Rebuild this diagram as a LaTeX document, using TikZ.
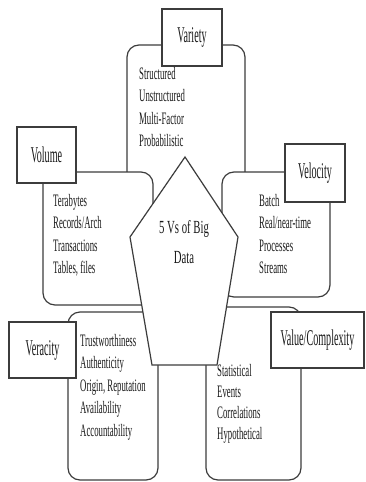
\documentclass[tikz,border=0pt]{standalone}
\usepackage{fontspec}
\setmainfont{Liberation Serif}
\newfontfamily\listfont{Liberation Serif}[FakeStretch=0.50]
\newfontfamily\tagfont{Liberation Serif}[FakeStretch=0.45]
\newfontfamily\corefont{Liberation Serif}[FakeStretch=0.58]
\usetikzlibrary{positioning}
\definecolor{ink}     {HTML}{1A1A1A}
\definecolor{edgegray}{HTML}{3C3C3C}

\tikzset{
  vbox/.style={draw=edgegray,fill=white,line width=1.2pt,rounded corners=12pt,inner sep=0pt},
  vtag/.style={draw=edgegray,fill=white,line width=1.2pt,inner sep=0pt,
               font=\tagfont\fontsize{22.5}{26}\selectfont,text=ink},
  vlist/.style={anchor=north west,inner sep=0pt,align=left,text=ink,
                font=\listfont\fontsize{17.5}{22.5}\selectfont},
}

\begin{document}
\begin{tikzpicture}[x=1pt,y=-1pt]
        \useasboundingbox (0,0) rectangle (365,482);
        % rounded panels, back to front
        \node[vbox,minimum width=118,minimum height=180] (varbox) at (186,135) {};
        \node[vbox,minimum width=110,minimum height=133] (volbox) at (98,238.5) {};
        \node[vbox,minimum width=108,minimum height=125] (velbox) at (276,234.5) {};
        \node[vbox,minimum width=90,minimum height=168]  (verbox) at (113,396) {};
        \node[vbox,minimum width=95,minimum height=173]  (valbox) at (253.5,393.5) {};
        % centre pentagon
        \draw[edgegray,fill=white,line width=1.2pt,line join=miter]
          (185,157) -- (238,237) -- (217,365) -- (152,365) -- (130,237) -- cycle;
        \node[align=center,text=ink,font=\corefont\fontsize{18.5}{30}\selectfont] (core) at (184,242) {5 Vs of Big\\Data};
        % tags
        \node[vtag,minimum width=60,minimum height=57] (vartag) at (192,37.5) {Variety};
        \node[vtag,minimum width=59,minimum height=56] (voltag) at (46.5,155) {Volume};
        \node[vtag,minimum width=60,minimum height=58] (veltag) at (315,173) {Velocity};
        \node[vtag,minimum width=67,minimum height=56] (vertag) at (42.5,350) {Veracity};
        \node[vtag,minimum width=93,minimum height=56] (valtag) at (317.5,340) {Value/Complexity};
        % lists
        \node[vlist] (varlist) at (139,67)  {Structured\\Unstructured\\Multi-Factor\\Probabilistic};
        \node[vlist] (vollist) at (53,194)  {Terabytes\\Records/Arch\\Transactions\\Tables, files};
        \node[vlist] (vellist) at (259,194) {Batch\\Real/near-time\\Processes\\Streams};
        \node[vlist] (verlist) at (80,334)  {Trustworthiness\\Authenticity\\Origin, Reputation\\Availability\\Accountability};
        \node[vlist,font=\listfont\fontsize{17.5}{21}\selectfont] (vallist) at (217,364) {Statistical\\Events\\Correlations\\Hypothetical};
      \end{tikzpicture}
\end{document}
